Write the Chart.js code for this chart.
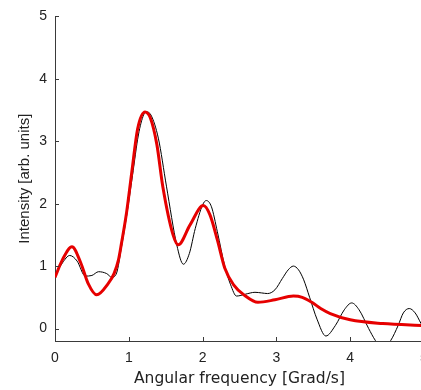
<!DOCTYPE html>
<html>
<head>
<meta charset="utf-8">
<script src="https://cdn.jsdelivr.net/npm/chart.js@4"></script>
<style>
html, body { margin: 0; padding: 0; background: #fff; overflow: hidden; }
</style>
</head>
<body>
<canvas id="spectrum" width="440" height="390"></canvas>
<script>
var xTicks = [0, 1, 2, 3, 4, 5];
var yTicks = [0, 1, 2, 3, 4, 5];

// measured spectrum (thin black)
var measX = [0, 0.1, 0.2, 0.3, 0.41, 0.5, 0.59, 0.7, 0.77, 0.835, 0.9, 0.97, 1.05, 1.13, 1.2, 1.24, 1.3, 1.4, 1.51, 1.65, 1.74, 1.82, 1.9, 2.0, 2.05, 2.12, 2.2, 2.3, 2.38, 2.46, 2.58, 2.71, 2.8, 2.88, 2.98, 3.08, 3.16, 3.23, 3.3, 3.37, 3.45, 3.55, 3.67, 3.8, 3.92, 4.02, 4.12, 4.25, 4.34, 4.44, 4.55, 4.65, 4.72, 4.8, 4.88, 4.96, 5.0];
var measY = [0.85, 1.05, 1.17, 1.08, 0.84, 0.85, 0.91, 0.88, 0.82, 0.89, 1.3, 1.8, 2.45, 3.1, 3.42, 3.47, 3.42, 3.05, 2.28, 1.34, 1.03, 1.2, 1.6, 1.98, 2.05, 1.95, 1.55, 1.0, 0.7, 0.52, 0.55, 0.58, 0.57, 0.56, 0.62, 0.8, 0.94, 1.0, 0.94, 0.78, 0.5, 0.15, -0.12, 0.05, 0.3, 0.41, 0.3, 0.0, -0.19, -0.33, -0.19, 0.05, 0.25, 0.32, 0.25, 0.08, 0.0];

// model fit (thick red)
var fitX = [0, 0.1, 0.23, 0.35, 0.45, 0.565, 0.72, 0.8, 0.86, 0.9, 0.97, 1.04, 1.12, 1.22, 1.29, 1.38, 1.46, 1.6, 1.67, 1.83, 2.01, 2.1, 2.2, 2.3, 2.42, 2.57, 2.75, 2.98, 3.23, 3.35, 3.48, 3.6, 3.73, 4.0, 4.44, 5.0];
var fitY = [0.82, 1.1, 1.31, 1.05, 0.72, 0.54, 0.72, 0.88, 1.1, 1.36, 1.86, 2.5, 3.2, 3.47, 3.38, 2.95, 2.28, 1.5, 1.34, 1.66, 1.97, 1.82, 1.42, 0.97, 0.7, 0.53, 0.42, 0.46, 0.52, 0.5, 0.42, 0.32, 0.24, 0.14, 0.08, 0.05];

function pairs(xs, ys) {
  return xs.map(function (x, i) { return { x: x, y: ys[i] }; });
}

var axisColor = '#3a3a3a';
var textColor = '#222';

// MATLAB-style ticks pointing into the plot
var inwardTicks = {
  id: 'inwardTicks',
  afterDatasetsDraw: function (chart) {
    var ctx = chart.ctx, a = chart.chartArea;
    var xs = chart.scales.x, ys = chart.scales.y;
    ctx.save();
    ctx.strokeStyle = axisColor;
    ctx.lineWidth = 1;
    ctx.beginPath();
    xTicks.forEach(function (v) {
      var px = Math.round(xs.getPixelForValue(v)) + 0.5;
      ctx.moveTo(px, a.bottom);
      ctx.lineTo(px, a.bottom - 4);
    });
    yTicks.forEach(function (v) {
      var py = Math.round(ys.getPixelForValue(v)) + 0.5;
      ctx.moveTo(a.left, py);
      ctx.lineTo(a.left + 4, py);
    });
    ctx.stroke();
    ctx.restore();
  }
};

var ctx = document.getElementById('spectrum').getContext('2d');
var chart = new Chart(ctx, {
  type: 'scatter',
  data: {
    datasets: [
      {
        label: 'fit',
        data: pairs(fitX, fitY),
        showLine: true,
        borderColor: '#e60000',
        borderWidth: 3,
        pointRadius: 0,
        cubicInterpolationMode: 'monotone'
      },
      {
        label: 'measured',
        data: pairs(measX, measY),
        showLine: true,
        borderColor: '#000',
        borderWidth: 1,
        pointRadius: 0,
        cubicInterpolationMode: 'monotone'
      }
    ]
  },
  options: {
    responsive: false,
    animation: false,
    layout: { padding: { left: 0, top: 10, right: 16, bottom: 0 } },
    plugins: { legend: { display: false }, tooltip: { enabled: false } },
    scales: {
      x: {
        type: 'linear',
        min: 0,
        max: 5,
        afterBuildTicks: function (s) { s.ticks = xTicks.map(function (v) { return { value: v }; }); },
        afterFit: function (s) { s.height = 49; },
        grid: { display: false, drawTicks: false },
        border: { display: true, color: axisColor, width: 1 },
        ticks: { padding: 9, maxRotation: 0, color: textColor, font: { family: 'Liberation Sans', size: 14 } },
        title: {
          display: true,
          text: 'Angular frequency [Grad/s]',
          color: textColor,
          font: { family: 'DejaVu Sans', size: 15.5 },
          padding: { top: 0, bottom: 2 }
        }
      },
      y: {
        type: 'linear',
        min: -0.2,
        max: 5,
        afterBuildTicks: function (s) { s.ticks = yTicks.map(function (v) { return { value: v }; }); },
        afterFit: function (s) { s.width = 55; },
        grid: { display: false, drawTicks: false },
        border: { display: true, color: axisColor, width: 1 },
        ticks: { padding: 8, color: textColor, font: { family: 'Liberation Sans', size: 14 } },
        title: {
          display: true,
          text: 'Intensity [arb. units]',
          color: textColor,
          font: { family: 'Liberation Sans', size: 15 },
          padding: { top: 16, bottom: 0 }
        }
      }
    }
  },
  plugins: [inwardTicks]
});
</script>
</body>
</html>
